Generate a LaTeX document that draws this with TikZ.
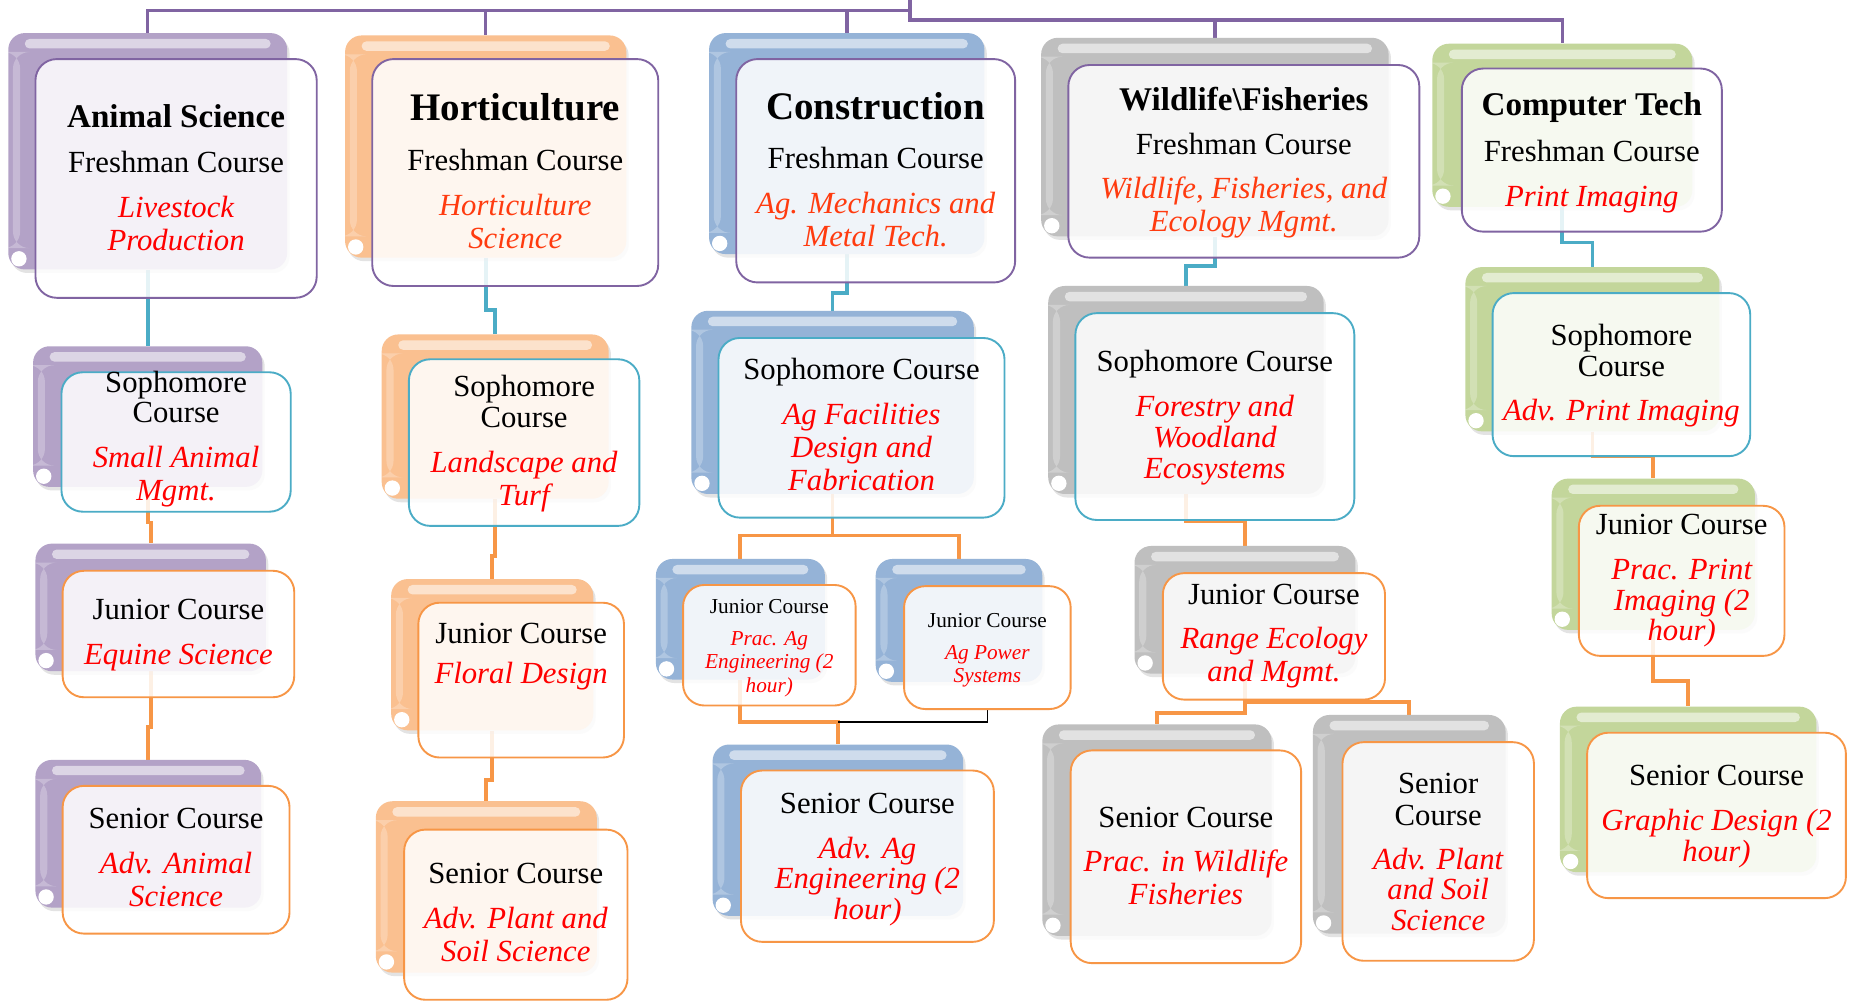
\documentclass[tikz,border=0pt]{standalone}
\usepackage{fontspec}
\setmainfont{Liberation Serif}
\usetikzlibrary{fit,backgrounds,shadows}

\definecolor{violetback}{HTML}{B3A2C7}
\definecolor{orangeback}{HTML}{FAC090}
\definecolor{blueback}{HTML}{95B3D7}
\definecolor{grayback}{HTML}{BFBFBF}
\definecolor{greenback}{HTML}{C3D69B}
\definecolor{violetline}{HTML}{8064A2}
\definecolor{tealline}{HTML}{4BACC6}
\definecolor{orangeline}{HTML}{F79646}
\definecolor{coursered}{HTML}{FF0000}
\definecolor{coursetan}{HTML}{FF3B0F}

\newcommand{\bodyfont}{\fontsize{26}{28}\selectfont}
\newcommand{\smallbody}{\fontsize{18}{19.5}\selectfont}
\newcommand{\deptname}[2][28]{{\fontsize{#1}{#1}\selectfont\bfseries #2}}
\newcommand{\coursename}[1]{{\color{coursered}\itshape #1}}
\newcommand{\firstcourse}[1]{{\color{coursetan}\itshape #1}}
% empty first row, moves the lines up or down in the box
\newcommand{\textdrop}[1][-10pt]{\\[#1]}

\tikzset{
  backbox/.style={rounded corners=14pt, fill=#1, inner sep=0pt,
    drop shadow={opacity=0.22, shadow xshift=2pt, shadow yshift=-3pt},
    path picture={
      \fill[white, opacity=0.55, rounded corners=4pt]
        ([xshift=14pt,yshift=-5pt]path picture bounding box.north west) rectangle
        ([xshift=-14pt,yshift=-13pt]path picture bounding box.north east);
      \fill[white, opacity=0.25]
        ([xshift=4pt,yshift=-16pt]path picture bounding box.north west) rectangle
        ([xshift=10pt,yshift=18pt]path picture bounding box.south west);
      \fill[white] ([xshift=9pt,yshift=9pt]path picture bounding box.south west) circle (6.5pt);
    }},
  frontbox/.style={rounded corners=18pt, draw=#1, line width=1.6pt, fill=white,
    fill opacity=0.86, text opacity=1, inner sep=0pt, align=center, font=\bodyfont},
  violetlink/.style={draw=violetline, line width=3pt},
  teallink/.style={draw=tealline, line width=3.2pt},
  orangelink/.style={draw=orangeline, line width=3.2pt},
}

\begin{document}
\begin{tikzpicture}[x=1pt,y=-1pt]
\useasboundingbox (0,0) rectangle (1568,848);
% animal science
\node[backbox=violetback, fit={(7,28)(243,228)}] (asB) {};
\node[frontbox=violetline, fit={(30,50)(268,252)}] (as) {\textdrop\deptname{Animal Science}\\[10pt]Freshman Course\\[10pt]\coursename{Livestock\\Production}};
\node[backbox=violetback, fit={(28,293)(222,412)}] (as2B) {};
\node[frontbox=tealline, fit={(52,315)(246,433)}] (as2) {\textdrop[-15pt]Sophomore\\[-2pt]Course\\[10pt]\coursename{Small Animal\\Mgmt.}};
\node[backbox=violetback, fit={(30,460)(225,568)}] (as3B) {};
\node[frontbox=orangeline, fit={(53,483)(249,590)}] (as3) {\textdrop[-9pt]Junior Course\\[10pt]\coursename{Equine Science}};
\node[backbox=violetback, fit={(30,643)(221,768)}] (as4B) {};
\node[frontbox=orangeline, fit={(53,665)(245,790)}] (as4) {\textdrop[-14pt]Senior Course\\[10pt]\coursename{Adv. Animal\\Science}};
% horticulture
\node[backbox=orangeback, fit={(292,30)(530,218)}] (hoB) {};
\node[frontbox=violetline, fit={(315,50)(557,242)}] (ho) {\textdrop[-7pt]\deptname[33]{Horticulture}\\[14pt]Freshman Course\\[10pt]\firstcourse{Horticulture\\Science}};
\node[backbox=orangeback, fit={(323,283)(515,422)}] (ho2B) {};
\node[frontbox=tealline, fit={(346,304)(541,445)}] (ho2) {\textdrop[-8pt]Sophomore\\[-2pt]Course\\[10pt]\coursename{Landscape and\\Turf}};
\node[backbox=orangeback, fit={(331,490)(502,618)}] (ho3B) {};
\node[frontbox=orangeline, fit={(354,510)(528,641)}] (ho3) {\textdrop[-51pt]Junior Course\\[6pt]\coursename{Floral Design}};
\node[backbox=orangeback, fit={(318,678)(505,823)}] (ho4B) {};
\node[frontbox=orangeline, fit={(342,702)(531,846)}] (ho4) {\textdrop[-14pt]Senior Course\\[10pt]\coursename{Adv. Plant and\\Soil Science}};
% construction
\node[backbox=blueback, fit={(600,28)(833,215)}] (coB) {};
\node[frontbox=violetline, fit={(623,50)(859,239)}] (co) {\textdrop[-7pt]\deptname[33]{Construction}\\[14pt]Freshman Course\\[10pt]\firstcourse{Ag. Mechanics and\\Metal Tech.}};
\node[backbox=blueback, fit={(585,263)(824,418)}] (co2B) {};
\node[frontbox=tealline, fit={(608,286)(850,438)}] (co2) {\textdrop[-15pt]Sophomore Course\\[10pt]\coursename{Ag Facilities\\Design and\\Fabrication}};
\node[backbox=blueback, fit={(555,473)(698,575)}] (co3aB) {};
\node[frontbox=orangeline, font=\smallbody, fit={(578,495)(724,597)}] (co3a) {\textdrop[-3pt]Junior Course\\[8pt]\coursename{Prac. Ag\\Engineering (2\\hour)}};
\node[backbox=blueback, fit={(741,473)(882,577)}] (co3bB) {};
\node[frontbox=orangeline, font=\smallbody, fit={(765,496)(906,600)}] (co3b) {\textdrop[-3pt]Junior Course\\[7pt]\coursename{Ag Power\\Systems}};
\node[backbox=blueback, fit={(603,630)(815,775)}] (co4B) {};
\node[frontbox=orangeline, fit={(627,652)(841,797)}] (co4) {\textdrop[-5pt]Senior Course\\[10pt]\coursename{Adv. Ag\\[-2pt]Engineering (2\\[-2pt]hour)}};
% wildlife
\node[backbox=grayback, fit={(881,32)(1175,200)}] (wfB) {};
\node[frontbox=violetline, fit={(904,55)(1201,218)}] (wf) {\textdrop[-6pt]\deptname{Wildlife\textbackslash Fisheries}\\[9pt]Freshman Course\\[9pt]\firstcourse{Wildlife, Fisheries, and\\Ecology Mgmt.}};
\node[backbox=grayback, fit={(887,242)(1120,418)}] (wf2B) {};
\node[frontbox=tealline, fit={(910,265)(1146,440)}] (wf2) {\textdrop[-8pt]Sophomore Course\\[10pt]\coursename{Forestry and\\[-2pt]Woodland\\[-2pt]Ecosystems}};
\node[backbox=grayback, fit={(960,462)(1147,570)}] (wf3B) {};
\node[frontbox=orangeline, fit={(984,485)(1172,592)}] (wf3) {\textdrop[-11pt]Junior Course\\[9pt]\coursename{Range Ecology\\and Mgmt.}};
\node[backbox=grayback, fit={(882,613)(1076,792)}] (wf4aB) {};
\node[frontbox=orangeline, fit={(906,635)(1101,815)}] (wf4a) {\textdrop[-12pt]Senior Course\\[9pt]\coursename{Prac. in Wildlife\\Fisheries}};
\node[backbox=grayback, fit={(1111,605)(1274,790)}] (wf4bB) {};
\node[frontbox=orangeline, fit={(1136,628)(1298,813)}] (wf4b) {\textdrop[-10pt]Senior\\[-1pt]Course\\[9pt]\coursename{Adv. Plant\\[-2pt]and Soil\\[-2pt]Science}};
% computer tech
\node[backbox=greenback, fit={(1212,37)(1432,175)}] (ctB) {};
\node[frontbox=violetline, fit={(1237,58)(1457,196)}] (ct) {\textdrop[-4pt]\deptname{Computer Tech}\\[11pt]Freshman Course\\[10pt]\coursename{Print Imaging}};
\node[backbox=greenback, fit={(1240,226)(1455,365)}] (ct2B) {};
\node[frontbox=tealline, fit={(1263,248)(1481,386)}] (ct2) {\textdrop[-8pt]Sophomore\\[-2pt]Course\\[10pt]\coursename{Adv. Print Imaging}};
\node[backbox=greenback, fit={(1313,405)(1485,533)}] (ct3B) {};
\node[frontbox=orangeline, fit={(1336,428)(1510,555)}] (ct3) {\textdrop[-11pt]Junior Course\\[10pt]\coursename{Prac. Print\\[-2pt]Imaging (2\\[-2pt]hour)}};
\node[backbox=greenback, fit={(1320,598)(1537,738)}] (ct4B) {};
\node[frontbox=orangeline, fit={(1343,620)(1562,760)}] (ct4) {\textdrop[-9pt]Senior Course\\[10pt]\coursename{Graphic Design (2\\[-2pt]hour)}};

\coordinate (root) at (770,0);
\coordinate (barL) at (0,9);
\coordinate (barR) at (0,17);
\coordinate (cojoin) at (709,611);
\begin{scope}[on background layer]
\fill[white] (0,0) rectangle (1568,848);
% top level
\draw[violetlink] (root) |- (asB.north |- barL) -- (asB.north);
\draw[violetlink] (hoB.north |- barL) -- (hoB.north);
\draw[violetlink] (coB.north |- barL) -- (coB.north);
\draw[violetlink] (root) |- (ctB.north |- barR) -- (ctB.north);
\draw[violetlink] (wfB.north |- barR) -- (wfB.north);
% freshman to sophomore
\draw[teallink] (asB.south) -- (as2B.north);
\draw[teallink] (hoB.south) -- ++(0,44) -| (ho2B.north);
\draw[teallink] (coB.south) -- ++(0,33) -| (co2B.north);
\draw[teallink] (wfB.south) -- ++(0,25) -| (wf2B.north);
\draw[teallink] (ctB.south) -- ++(0,30) -| (ct2B.north);
% upper years
\draw[orangelink] (as2B.south) -- ++(0,30) -| (as3B.north);
\draw[orangelink] (as3B.south) -- ++(0,47) -| (as4B.north);
\draw[orangelink] (ho2B.south) -- ++(0,48) -| (ho3B.north);
\draw[orangelink] (ho3B.south) -- ++(0,42) -| (ho4B.north);
\draw[orangelink] (co2B.south) -- ++(0,35) -| (co3aB.north);
\draw[orangelink] (co2B.south) -- ++(0,35) -| (co3bB.north);
\draw[orangelink] (co3aB.south) |- (cojoin) -- (co4B.north);
\draw[black, line width=1.3pt] (co3b.south) |- (cojoin);
\draw[orangelink] (wf2B.south) -- ++(0,23) -| (wf3B.north);
\draw[orangelink] (wf3B.south) -- ++(0,33) -| (wf4aB.north);
\draw[orangelink] (wf3B.south) -- ++(0,24) -| (wf4bB.north);
\draw[orangelink] (ct2B.south) -- ++(0,21) -| (ct3B.north);
\draw[orangelink] (ct3B.south) -- ++(0,43) -| (ct4B.north);
\end{scope}
\end{tikzpicture}
\end{document}
